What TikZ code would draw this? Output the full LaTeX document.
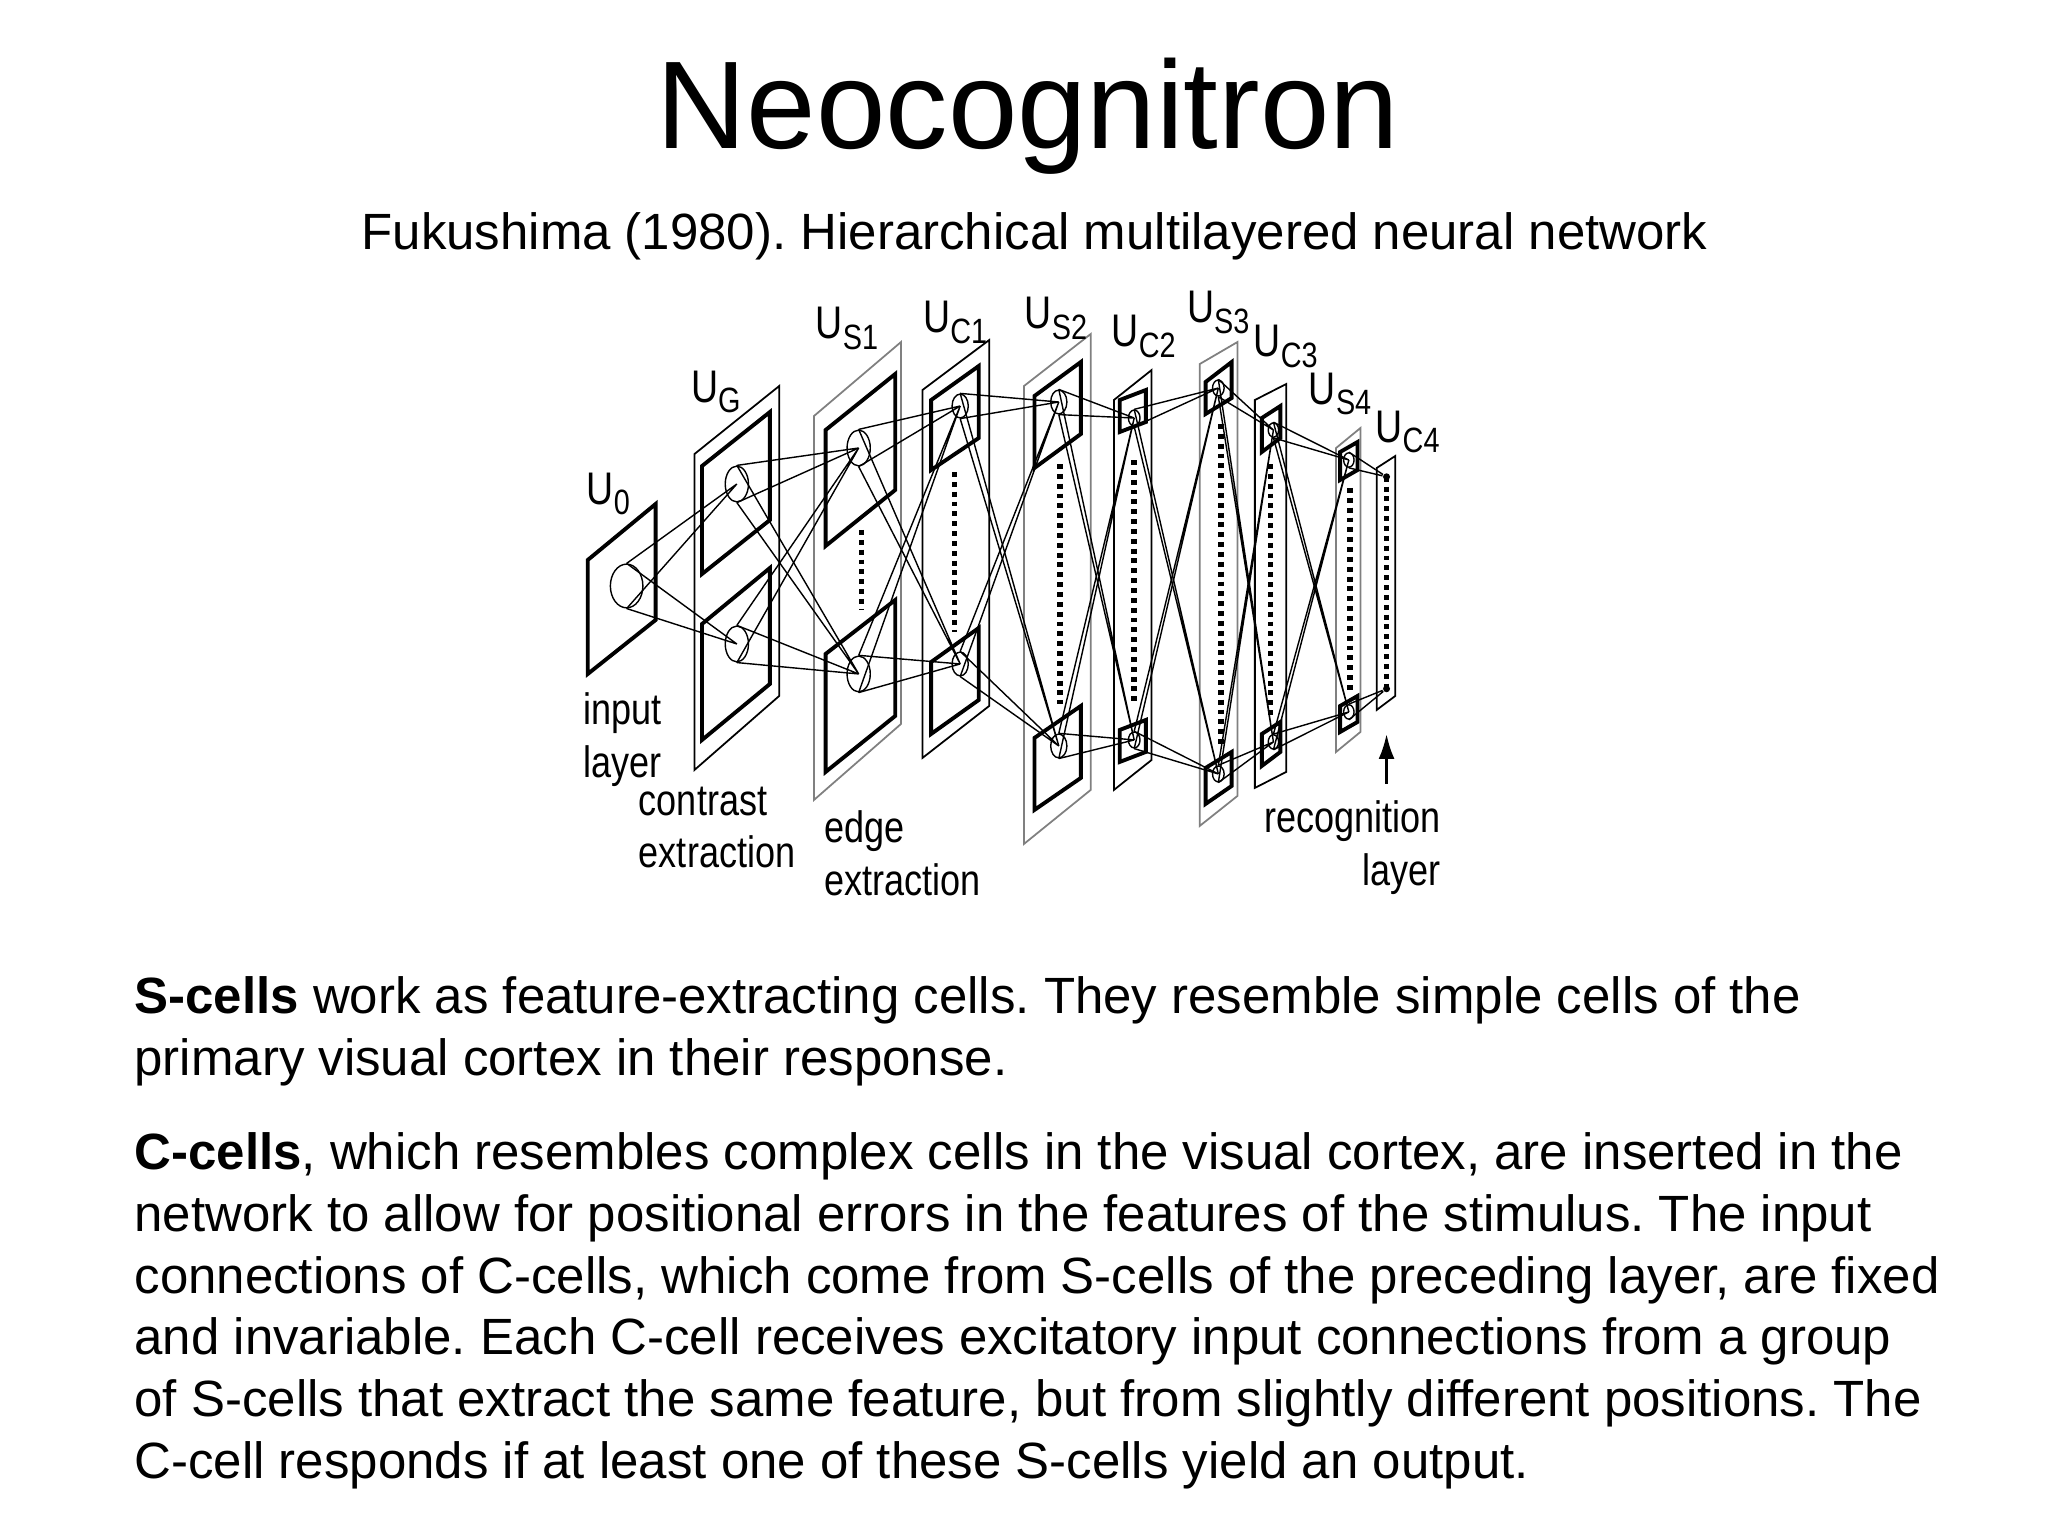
\documentclass[tikz,border=0pt]{standalone}
\usepackage{fontspec}
\setmainfont{Liberation Sans}
\newfontfamily\narrow[FakeStretch=0.82]{Liberation Sans}
\usetikzlibrary{shapes.geometric,arrows.meta}
\frenchspacing
\newcommand\ulab[1]{U\raisebox{-0.45ex}{\fontsize{10pt}{12pt}\selectfont #1}}
\tikzset{
 body/.style={anchor=base west,inner sep=0,font=\fontsize{14.5pt}{17pt}\selectfont},
 outerp/.style={line width=0.5pt},
 innerp/.style={line width=1.1pt},
 conn/.style={line width=0.4pt},
 dots/.style={line width=1.6pt,dash pattern=on 1.4pt off 1.4pt},
 cell/.style={ellipse,draw,line width=0.4pt,inner sep=0},
 lab/.style={inner sep=0,font=\narrow\fontsize{13pt}{16pt}\selectfont},
 desc/.style={inner sep=0,font=\narrow\fontsize{12.5pt}{15pt}\selectfont,align=left}
}
\begin{document}
\begin{tikzpicture}[x=0.01313cm,y=-0.01313cm]
\useasboundingbox[fill=white] (0,0) rectangle (1560,1170);
\node[inner sep=0,font=\fontsize{35.5pt}{40pt}\selectfont,anchor=base] (title) at (783,113) {Neocognitron};
\node[inner sep=0,font=\fontsize{14.5pt}{17pt}\selectfont,anchor=base] (sub) at (788,190) {Fukushima (1980). Hierarchical multilayered neural network};
\node[body] (b1) at (102,772) {\textbf{S-cells} work as feature-extracting cells. They resemble simple cells of the};
\node[body] (b2) at (102,819) {primary visual cortex in their response.};
\node[body] (b3) at (102,891) {\textbf{C-cells}, which resembles complex cells in the visual cortex, are inserted in the};
\node[body] (b4) at (102,938) {network to allow for positional errors in the features of the stimulus. The input};
\node[body] (b5) at (102,985) {connections of C-cells, which come from S-cells of the preceding layer, are fixed};
\node[body] (b6) at (102,1032) {and invariable. Each C-cell receives excitatory input connections from a group};
\node[body] (b7) at (102,1079) {of S-cells that extract the same feature, but from slightly different positions. The};
\node[body] (b8) at (102,1126) {C-cell responds if at least one of these S-cells yield an output.};
\begin{scope}[shift={(426.5,213.3)},x=0.0058cm,y=-0.004cm]
% planes
\draw[innerp] (48,700)--(165,560)--(165,850)--(48,985)--cycle;
\draw[outerp] (232,435)--(378,265)--(378,1040)--(232,1225)--cycle;
\draw[innerp] (245,465)--(362,330)--(362,600)--(245,735)--cycle;
\draw[innerp] (245,860)--(362,720)--(362,1010)--(245,1150)--cycle;
\draw[outerp,gray] (438,340)--(588,155)--(588,1110)--(438,1300)--cycle;
\draw[innerp] (458,375)--(578,235)--(578,525)--(458,665)--cycle;
\draw[innerp] (458,935)--(578,800)--(578,1090)--(458,1230)--cycle;
\draw[dots] (520,625)--(520,825);
\draw[outerp] (625,275)--(740,150)--(740,1065)--(625,1195)--cycle;
\draw[innerp] (640,300)--(722,215)--(722,395)--(640,475)--cycle;
\draw[innerp] (640,955)--(722,870)--(722,1050)--(640,1135)--cycle;
\draw[dots] (680,480)--(680,880);
\draw[outerp,gray] (800,265)--(915,135)--(915,1275)--(800,1410)--cycle;
\draw[innerp] (818,290)--(898,205)--(898,385)--(818,470)--cycle;
\draw[innerp] (818,1145)--(898,1065)--(898,1245)--(818,1325)--cycle;
\draw[dots] (862,460)--(862,1060);
\draw[outerp] (955,300)--(1020,225)--(1020,1200)--(955,1275)--cycle;
\draw[innerp] (965,300)--(1010,275)--(1010,355)--(965,380)--cycle;
\draw[innerp] (965,1125)--(1010,1100)--(1010,1180)--(965,1205)--cycle;
\draw[dots] (990,450)--(990,1060);
\draw[outerp,gray] (1103,210)--(1168,155)--(1168,1290)--(1103,1365)--cycle;
\draw[innerp] (1113,255)--(1158,205)--(1158,295)--(1113,335)--cycle;
\draw[innerp] (1113,1220)--(1158,1180)--(1158,1265)--(1113,1310)--cycle;
\draw[dots] (1140,360)--(1140,1160);
\draw[outerp] (1198,300)--(1252,260)--(1252,1230)--(1198,1270)--cycle;
\draw[innerp] (1210,345)--(1242,315)--(1242,395)--(1210,430)--cycle;
\draw[innerp] (1210,1135)--(1242,1105)--(1242,1180)--(1210,1215)--cycle;
\draw[dots] (1225,460)--(1225,1100);
\draw[outerp,gray] (1338,420)--(1380,370)--(1380,1130)--(1338,1180)--cycle;
\draw[innerp] (1345,430)--(1375,405)--(1375,475)--(1345,500)--cycle;
\draw[innerp] (1345,1065)--(1375,1040)--(1375,1105)--(1345,1130)--cycle;
\draw[dots] (1362,520)--(1362,1030);
\draw[outerp] (1408,470)--(1440,440)--(1440,1040)--(1408,1075)--cycle;
\draw[dots] (1425,492)--(1425,1022);
% cells
\node[cell,minimum width=0.325cm,minimum height=0.437cm] (a0) at (115,765) {};
\foreach \n/\x/\y in {g1/305/510,g2/305/910,s1a/515/420,s1b/515/985}
  \node[cell,minimum width=0.232cm,minimum height=0.358cm] (\n) at (\x,\y) {};
\foreach \n/\x/\y in {c1a/690/315,c1b/690/960,s2a/860/305,s2b/860/1165}
  \node[cell,minimum width=0.162cm,minimum height=0.238cm] (\n) at (\x,\y) {};
\foreach \n/\x/\y in {c2a/990/345,c2b/990/1150,s3a/1135/270,s3b/1135/1235}
  \node[cell,minimum width=0.116cm,minimum height=0.159cm] (\n) at (\x,\y) {};
\foreach \n/\x/\y in {c3a/1230/375,c3b/1230/1155,s4a/1360/450,s4b/1360/1080}
  \node[cell,minimum width=0.104cm,minimum height=0.143cm] (\n) at (\x,\y) {};
\node[circle,fill,inner sep=0,minimum size=0.07cm] (d1) at (1425,492) {};
\node[circle,fill,inner sep=0,minimum size=0.07cm] (d2) at (1425,1022) {};
% connections
\foreach \t in {g1,g2} \draw[conn] (a0.north)--(\t.center) (a0.south)--(\t.center);
\foreach \s/\ta/\tb in {g1/s1a/s1b,g2/s1a/s1b,s1a/c1a/c1b,s1b/c1a/c1b,c1a/s2a/s2b,c1b/s2a/s2b,s2a/c2a/c2b,s2b/c2a/c2b,c2a/s3a/s3b,c2b/s3a/s3b,s3a/c3a/c3b,s3b/c3a/c3b,c3a/s4a/s4b,c3b/s4a/s4b}
  \draw[conn] (\s.north)--(\ta.center) (\s.south)--(\ta.center) (\s.north)--(\tb.center) (\s.south)--(\tb.center);
\draw[conn] (s4a.north)--(d1) (s4a.south)--(d1) (s4b.north)--(d2) (s4b.south)--(d2);
% arrow
\coordinate (ar) at (1425,1260);
\coordinate (arh) at (1425,1135);
\draw[line width=0.8pt,-{Latex[length=2.5mm,width=1.6mm]}] (ar)--(arh);
% labels
\node[lab,anchor=west] (l0) at (45,535) {\ulab{0}};
\node[lab,anchor=west] (lg) at (225,280) {\ulab{G}};
\node[lab,anchor=west] (l1) at (440,120) {\ulab{S1}};
\node[lab,anchor=west] (l2) at (625,105) {\ulab{C1}};
\node[lab,anchor=west] (l3) at (800,95) {\ulab{S2}};
\node[lab,anchor=west] (l4) at (950,140) {\ulab{C2}};
\node[lab,anchor=west] (l5) at (1080,80) {\ulab{S3}};
\node[lab,anchor=west] (l6) at (1195,165) {\ulab{C3}};
\node[lab,anchor=west] (l7) at (1290,285) {\ulab{S4}};
\node[lab,anchor=west] (l8) at (1405,380) {\ulab{C4}};
\node[desc,anchor=north west] (t1) at (40,1030) {input\\layer};
\node[desc,anchor=north west] (t2) at (135,1265) {contrast\\extraction};
\node[desc,anchor=north west] (t3) at (455,1325) {edge\\extraction};
\node[desc,anchor=north east,align=right] (t4) at (1520,1300) {recognition\\layer};
\end{scope}
\end{tikzpicture}
\end{document}
